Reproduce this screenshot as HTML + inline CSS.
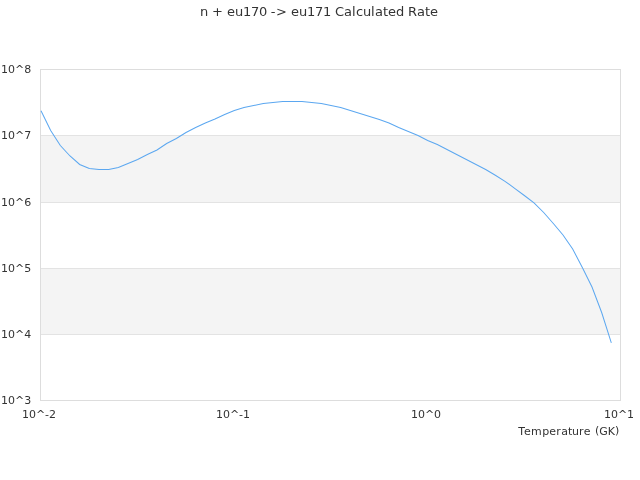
<!DOCTYPE html>
<html><head><meta charset="utf-8"><title>n + eu170 -> eu171 Calculated Rate</title>
<style>
html,body{margin:0;padding:0;background:#fff;}
body{width:640px;height:480px;overflow:hidden;}
svg{display:block;font-family:"DejaVu Sans","Liberation Sans",sans-serif;}
text{fill:#333;}
</style></head><body>
<svg width="640" height="480" viewBox="0 0 640 480">
<rect x="0" y="0" width="640" height="480" fill="#ffffff"/>
<rect x="41" y="136" width="579" height="66" fill="#f4f4f4"/>
<rect x="41" y="269" width="579" height="65" fill="#f4f4f4"/>
<g stroke-width="1" fill="none" shape-rendering="crispEdges">
<path stroke="#e3e3e3" d="M41,135.5H620M41,202.5H620M41,268.5H620M41,334.5H620"/>
<rect stroke="#dddddd" x="40.5" y="69.5" width="580" height="331"/>
</g>
<path d="M41.00,110.80 L50.67,130.50 L60.33,145.50 L70.00,156.00 L79.67,164.50 L89.33,168.50 L99.00,169.50 L108.67,169.50 L118.33,167.50 L128.00,163.50 L137.67,159.50 L147.33,154.50 L157.00,150.00 L166.67,143.50 L176.33,138.50 L186.00,132.50 L195.67,127.50 L205.33,123.00 L215.00,119.00 L224.67,114.50 L234.33,110.50 L244.00,107.50 L253.67,105.50 L263.33,103.50 L273.00,102.50 L282.67,101.50 L292.33,101.50 L302.00,101.50 L311.67,102.50 L321.33,103.50 L331.00,105.50 L340.67,107.50 L350.33,110.50 L360.00,113.50 L369.67,116.50 L379.33,119.50 L389.00,123.00 L398.67,127.50 L408.33,131.50 L418.00,135.50 L427.67,140.50 L437.33,144.50 L447.00,149.50 L456.67,154.50 L466.33,159.50 L476.00,164.50 L485.67,169.50 L495.33,175.30 L505.00,181.30 L514.67,188.30 L524.33,195.50 L534.00,202.80 L543.67,212.50 L553.33,223.50 L563.00,235.00 L572.67,249.00 L582.33,267.50 L592.00,287.00 L601.67,312.50 L611.33,342.80" fill="none" stroke="#5ba7f0" stroke-width="1.001"/>
<text x="200 208 212 223 227 235 243 251 259 267 270.7 276 287 291 299 307 315 323 331 335 344 352 356 363 371 375 383 388 396 404 408 417 425 430" y="16" font-size="13">n + eu170 -&gt; eu171 Calculated Rate</text>
<g font-size="11">
<text x="1" y="73">10^8</text>
<text x="1" y="139">10^7</text>
<text x="1" y="206">10^6</text>
<text x="1" y="272">10^5</text>
<text x="1" y="338">10^4</text>
<text x="1" y="404">10^3</text>
<text x="39" y="418" text-anchor="middle">10^-2</text>
<text x="233" y="418" text-anchor="middle">10^-1</text>
<text x="426" y="418" text-anchor="middle">10^0</text>
<text x="619" y="418" text-anchor="middle">10^1</text>
<text x="518.2 524.0 531.1 542.2 549.15 556.2 561.25 568.1 571.9 578.9 583.75 590.9 595.1 599.35 607.8 614.9" y="435 435 435 435 435 435 435 435 435 435 435 435 434.2 435 435 434.2">Temperature (GK)</text>
</g>
</svg>
</body></html>
